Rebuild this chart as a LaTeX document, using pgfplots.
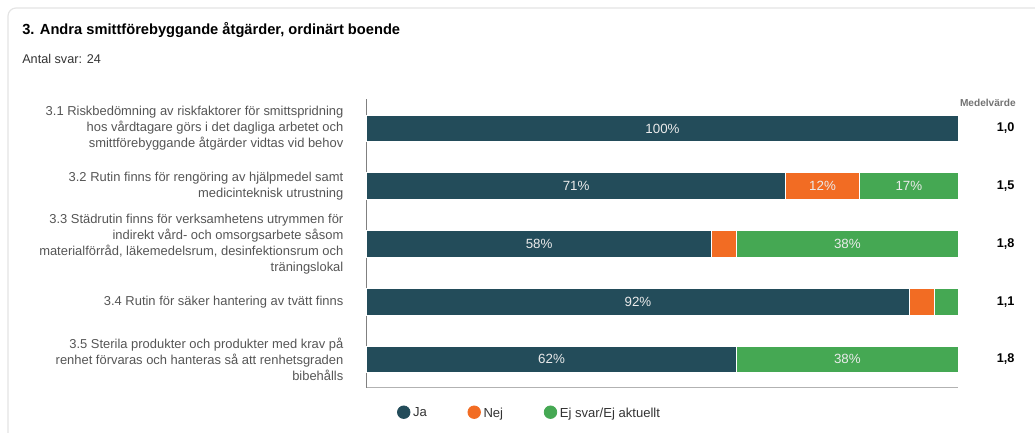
\documentclass[border=0pt]{standalone}
\usepackage{pgfplots}
\pgfplotsset{compat=1.18}
\usepackage{fontspec}
\setmainfont{Liberation Sans}
\definecolor{ja}{HTML}{234C5A}
\definecolor{nej}{HTML}{F26C23}
\definecolor{ej}{HTML}{45A853}
\definecolor{lbl}{HTML}{555555}
\definecolor{card}{HTML}{E4E4E4}
\begin{document}
\begin{tikzpicture}[x=0.75pt,y=0.75pt]
\path[use as bounding box] (0,0) rectangle (1035,432);
\begin{scope}
\clip (0,0) rectangle (1035,432);
\draw[card, line width=0.9pt, rounded corners=6pt] (8,-30) rectangle (1060,424);
\end{scope}
\node[anchor=base west, inner sep=0pt, font=\bfseries\fontsize{11}{13}\selectfont] at (22,397) {3. Andra smittförebyggande åtgärder, ordinärt boende};
\node[anchor=base west, inner sep=0pt, font=\fontsize{9.5}{11}\selectfont, text=black!80] at (22,368) {Antal svar: 24};
\begin{axis}[
  at={(275.025pt,33.225pt)}, anchor=south west, scale only axis,
  width=443.7pt, height=216.5pt,
  xbar stacked, bar width=20pt,
  xmin=0, xmax=100, ymin=-0.49, ymax=4.509,
  axis x line*=bottom, axis y line*=left,
  x axis line style={draw=black!30, line width=0.9pt, -},
  y axis line style={draw=black!50, line width=0.9pt, -},
  xtick=\empty, ytick={0,1,2,3,4},
  major tick length=0pt,
  yticklabels={
    {3.5 Sterila produkter och produkter med krav på\\renhet förvaras och hanteras så att renhetsgraden\\bibehålls},
    {3.4 Rutin för säker hantering av tvätt finns},
    {3.3 Städrutin finns för verksamhetens utrymmen för\\indirekt vård- och omsorgsarbete såsom\\materialförråd, läkemedelsrum, desinfektionsrum och\\träningslokal},
    {3.2 Rutin finns för rengöring av hjälpmedel samt\\medicinteknisk utrustning},
    {3.1 Riskbedömning av riskfaktorer för smittspridning\\hos vårdtagare görs i det dagliga arbetet och\\smittförebyggande åtgärder vidtas vid behov}
  },
  yticklabel style={align=right, text=lbl, font=\fontsize{9.7}{12}\selectfont, xshift=-14pt},
  clip=false,
  point meta=explicit symbolic,
  nodes near coords,
  nodes near coords style={anchor=center, text=white!92!black, font=\fontsize{10}{12}\selectfont},
  legend style={draw=none, fill=none, legend columns=-1, at={(axis cs:5.09,-0.933)}, anchor=west,
    inner sep=0pt, font=\fontsize{9.8}{12}\selectfont, text=black!80,
    /tikz/every even column/.append style={column sep=28.5pt}},
]
\addplot[fill=ja, draw=white, line width=0.6pt,
  legend image code/.code={\fill[ja] (0pt,0.8pt) circle (4.7pt);}]
  coordinates {(100,4) [100\%] (70.8,3) [71\%] (58.3,2) [58\%] (91.7,1) [92\%] (62.5,0) [62\%]};
\addlegendentry{Ja}
\addplot[fill=nej, draw=white, line width=0.6pt,
  legend image code/.code={\fill[nej] (0pt,0.8pt) circle (4.7pt);}]
  coordinates {(0,4) [{}] (12.5,3) [12\%] (4.2,2) [{}] (4.2,1) [{}] (0,0) [{}]};
\addlegendentry{Nej}
\addplot[fill=ej, draw=white, line width=0.6pt,
  legend image code/.code={\fill[ej] (0pt,0.8pt) circle (4.7pt);}]
  coordinates {(0,4) [{}] (16.7,3) [17\%] (37.5,2) [38\%] (4.2,1) [{}] (37.5,0) [38\%]};
\addlegendentry{Ej svar/Ej aktuellt}
\node[font=\bfseries\fontsize{7.6}{9}\selectfont, text=black!55] at (axis cs:105,4.435) {Medelvärde};
\node[font=\bfseries\fontsize{9.5}{11}\selectfont] at (axis cs:108,4) {1,0};
\node[font=\bfseries\fontsize{9.5}{11}\selectfont] at (axis cs:108,3) {1,5};
\node[font=\bfseries\fontsize{9.5}{11}\selectfont] at (axis cs:108,2) {1,8};
\node[font=\bfseries\fontsize{9.5}{11}\selectfont] at (axis cs:108,1) {1,1};
\node[font=\bfseries\fontsize{9.5}{11}\selectfont] at (axis cs:108,0) {1,8};
\end{axis}
\end{tikzpicture}
\end{document}
